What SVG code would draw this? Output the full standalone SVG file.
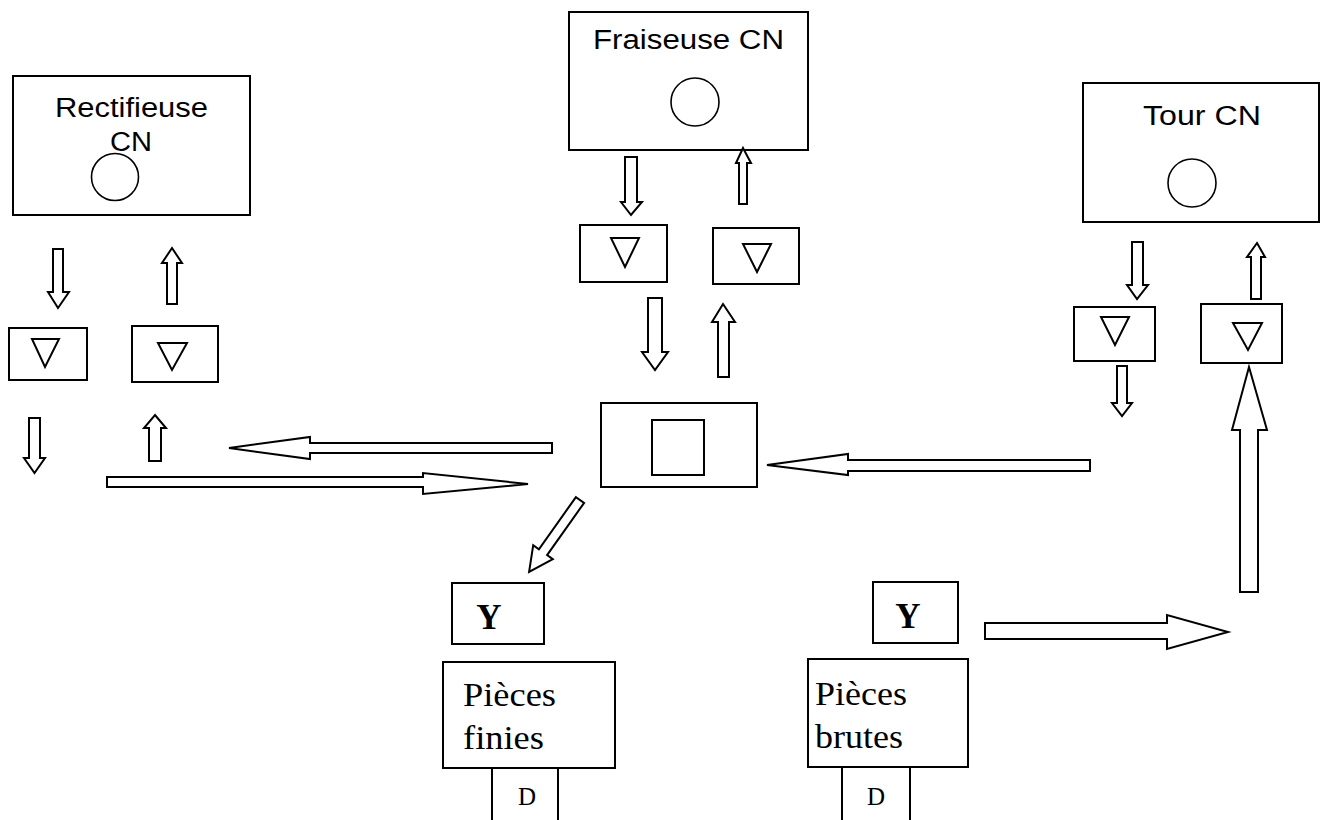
<svg xmlns="http://www.w3.org/2000/svg" width="1322" height="820" viewBox="0 0 1322 820">
<style>
.box{fill:#fff;stroke:#000;stroke-width:2}
.tri{fill:none;stroke:#000;stroke-width:2;stroke-linejoin:miter}
.arr{fill:#fff;stroke:#000;stroke-width:2;stroke-linejoin:miter}
.circ{fill:none;stroke:#000;stroke-width:1.6}
.sans{font-family:"Liberation Sans",Arial,sans-serif;font-size:27px;fill:#000}
.serif{font-family:"Liberation Serif","Times New Roman",serif;fill:#000}
</style>
<rect width="1322" height="820" fill="#fff"/>
<g id="rectifieuse">
<rect class="box" x="13" y="76" width="237" height="139"/>
<text class="sans" x="55" y="117" textLength="153" lengthAdjust="spacingAndGlyphs">Rectifieuse</text>
<text class="sans" x="110" y="151" textLength="42" lengthAdjust="spacingAndGlyphs">CN</text>
<circle class="circ" cx="115" cy="177" r="23.5"/>
</g>
<g id="fraiseuse">
<rect class="box" x="569" y="12" width="239" height="138"/>
<text class="sans" x="593" y="49" textLength="191" lengthAdjust="spacingAndGlyphs">Fraiseuse CN</text>
<circle class="circ" cx="695" cy="102" r="24"/>
</g>
<g id="tour">
<rect class="box" x="1083" y="83" width="236" height="139"/>
<text class="sans" x="1143" y="125" textLength="118" lengthAdjust="spacingAndGlyphs">Tour CN</text>
<circle class="circ" cx="1192" cy="183" r="24"/>
</g>
<g id="stock-rect-in">
<rect class="box" x="9" y="328" width="78" height="52"/>
<polygon class="tri" points="32,339 59,339 45,367"/>
</g>
<g id="stock-rect-out">
<rect class="box" x="132" y="326" width="86" height="56"/>
<polygon class="tri" points="158,343 187,343 172,370"/>
</g>
<g id="stock-frai-in">
<rect class="box" x="580" y="225" width="87" height="57"/>
<polygon class="tri" points="611,238 639,238 625,267"/>
</g>
<g id="stock-frai-out">
<rect class="box" x="713" y="228" width="86" height="56"/>
<polygon class="tri" points="743,244 771,244 757,272"/>
</g>
<g id="stock-tour-in">
<rect class="box" x="1074" y="307" width="81" height="54"/>
<polygon class="tri" points="1101,317 1129,317 1115,345"/>
</g>
<g id="stock-tour-out">
<rect class="box" x="1201" y="304" width="81" height="59"/>
<polygon class="tri" points="1233,323 1262,323 1248,350"/>
</g>
<g id="transfer">
<rect class="box" x="601" y="403" width="156" height="84"/>
<rect class="box" x="652" y="420" width="52" height="55"/>
</g>
<g id="control-finies">
<rect class="box" x="452" y="583" width="92" height="61"/>
<text class="serif" x="489" y="629" font-size="35" font-weight="bold" text-anchor="middle">Y</text>
</g>
<g id="control-brutes">
<rect class="box" x="873" y="582" width="85" height="61"/>
<text class="serif" x="908" y="628" font-size="35" font-weight="bold" text-anchor="middle">Y</text>
</g>
<g id="pieces-finies">
<rect class="box" x="443" y="662" width="172" height="106"/>
<text class="serif" x="463" y="706" font-size="33" textLength="93" lengthAdjust="spacingAndGlyphs">Pièces</text>
<text class="serif" x="463" y="749" font-size="33" textLength="81" lengthAdjust="spacingAndGlyphs">finies</text>
</g>
<g id="pieces-brutes">
<rect class="box" x="808" y="659" width="160" height="108"/>
<text class="serif" x="815" y="705" font-size="33" textLength="92" lengthAdjust="spacingAndGlyphs">Pièces</text>
<text class="serif" x="815" y="748" font-size="33" textLength="88" lengthAdjust="spacingAndGlyphs">brutes</text>
</g>
<g id="d-finies">
<line x1="492" y1="768" x2="492" y2="820" stroke="#000" stroke-width="2"/>
<line x1="558" y1="768" x2="558" y2="820" stroke="#000" stroke-width="2"/>
<text class="serif" x="527" y="805" font-size="25" text-anchor="middle">D</text>
</g>
<g id="d-brutes">
<line x1="842" y1="767" x2="842" y2="820" stroke="#000" stroke-width="2"/>
<line x1="910" y1="767" x2="910" y2="820" stroke="#000" stroke-width="2"/>
<text class="serif" x="876" y="805" font-size="25" text-anchor="middle">D</text>
</g>
<g id="connectors">
<polygon class="arr" points="53,249 63,249 63,292 69,292 58,308 48,292 53,292"/>
<polygon class="arr" points="172,248 182,263 177,263 177,304 167,304 167,263 162,263"/>
<polygon class="arr" points="29,418 40,418 40,458 45,458 34.5,473 24,458 29,458"/>
<polygon class="arr" points="155,415 166,428 161,428 161,461 149,461 149,428 144,428"/>
<polygon class="arr" points="552,443 552,453 310,453 310,459 229,448 310,437 310,443"/>
<polygon class="arr" points="107,477 423,477 423,473 528,484 423,494 423,487 107,487"/>
<polygon class="arr" points="625,157 637,157 637,202 642,202 631,215 621,202 625,202"/>
<polygon class="arr" points="743,148 751,163 747,163 747,204 739,204 739,163 736,163"/>
<polygon class="arr" points="648,298 662,298 662,352 668,352 655,370 642,352 648,352"/>
<polygon class="arr" points="723,304 735,322 729,322 729,377 718,377 718,322 712,322"/>
<polygon class="arr" points="1090,460 1090,471 848,471 848,475 767,465 848,454 848,460"/>
<polygon class="arr" points="1132,242 1143,242 1143,285 1148,285 1137,299 1127,285 1132,285"/>
<polygon class="arr" points="1117,366 1127,366 1127,403 1132,403 1122,416 1112,403 1117,403"/>
<polygon class="arr" points="1257,243 1265,257 1261,257 1261,299 1251,299 1251,257 1247,257"/>
<polygon class="arr" points="1249,367 1267,430 1258,430 1258,592 1240,592 1240,430 1232,430"/>
<polygon class="arr" points="985,623 1167,623 1167,615 1228,632 1167,649 1167,639 985,639"/>
<polygon class="arr" points="575.9,497.1 538.9,549.3 533.2,545.3 529.1,571.8 552.8,559.1 547.1,555.1 584.1,502.9"/>
</g>
</svg>
